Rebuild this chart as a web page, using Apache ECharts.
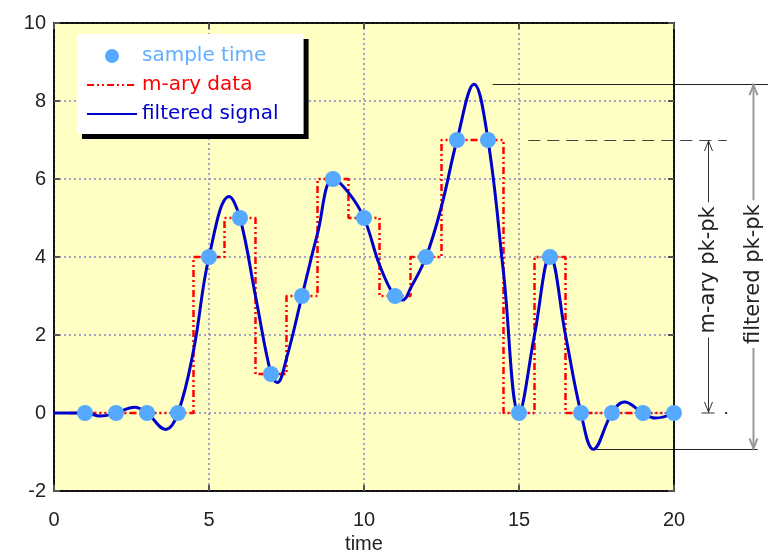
<!DOCTYPE html>
<html>
<head>
<meta charset="utf-8">
<script src="https://cdn.jsdelivr.net/npm/echarts@6/dist/echarts.min.js"></script>
<style>
    html, body { margin: 0; padding: 0; background: #fff; }
    #chart { width: 768px; height: 554px; }
</style>
</head>
<body>
<div id="chart"></div>
<script type="text/javascript">
    // sample instants and the m-ary symbol values
    const sampleT = [1, 2, 3, 4, 5, 6, 7, 8, 9, 10, 11, 12, 13, 14, 15, 16, 17, 18, 19, 20];
    const maryV = [0, 0, 0, 0, 4, 5, 1, 3, 6, 5, 3, 4, 7, 7, 0, 4, 0, 0, 0, 0];

    // filtered signal
    const filtT = [0, 0.5, 1, 1.5, 2, 2.6, 3, 3.6, 4, 4.5, 5, 5.65, 6, 6.5, 7, 7.2, 7.5, 8, 8.5, 9, 9.5, 10,
        10.5, 11, 11.25, 11.5, 12, 12.5, 13, 13.55, 14, 14.5, 15, 15.5, 16, 16.5, 17, 17.4, 18, 18.4, 19, 19.4, 20];
    const filtV = [0, 0, 0, -0.08, 0, 0.15, 0, -0.42, 0, 1.6, 4, 5.55, 5, 3, 1, 0.78, 1.4, 3, 4.6, 6, 5.65, 5,
        3.8, 2.97, 2.9, 3.2, 4, 5.3, 7, 8.43, 7, 3.6, 0, 2, 4.02, 2, 0, -0.93, 0, 0.28, 0, -0.13, 0];

    const xTicks = [0, 5, 10, 15, 20];
    const yTicks = [-2, 0, 2, 4, 6, 8, 10];

    // step data for the m-ary trace, each symbol held for one period around its sample
    let stepData = [];
    sampleT.forEach(function (t, i) {
        stepData.push([t - 0.5, maryV[i]]);
        stepData.push([t + 0.5, maryV[i]]);
    });
    let filtData = filtT.map(function (t, i) { return [t, filtV[i]]; });
    let sampleData = sampleT.map(function (t, i) { return [t, maryV[i]]; });

    let labelFont = 'Liberation Sans, Arial, sans-serif';
    let gridLine = {show: true, lineStyle: {color: '#8585C2', type: [2, 3], width: 1.5}};
    let tick = {show: true, inside: true, length: 6, lineStyle: {color: '#555', width: 2}};
    let frame = {show: true, onZero: false, lineStyle: {color: '#000', width: 1.5}};

    let myChart = echarts.init(document.getElementById('chart'));
    let option = {
        animation: false,
        grid: {
            left: 54, right: 94, top: 23, bottom: 63, outerBoundsMode: 'none',
            show: true, backgroundColor: '#FFFFC4', borderColor: '#000', borderWidth: 1.5
        },
        legend: {
            left: 77, top: 34, orient: 'vertical',
            backgroundColor: '#fff', borderWidth: 0,
            shadowColor: '#000', shadowBlur: 0, shadowOffsetX: 5, shadowOffsetY: 5,
            padding: [12, 25, 10, 9],
            itemWidth: 50, itemHeight: 14, itemGap: 9,
            textStyle: {fontSize: 20, fontFamily: 'DejaVu Sans, sans-serif'},
            data: [
                {name: 'sample time', icon: 'circle', textStyle: {color: '#62AEFF'}},
                {name: 'm-ary data', itemStyle: {opacity: 0}, textStyle: {color: '#FF0000'}},
                {name: 'filtered signal', itemStyle: {opacity: 0}, textStyle: {color: '#0000CC'}}
            ]
        },
        xAxis: [
            {
                type: 'value', min: xTicks[0], max: xTicks[xTicks.length - 1], interval: 5,
                name: 'time', nameLocation: 'middle', nameGap: 42,
                nameTextStyle: {fontSize: 20, color: '#222', fontFamily: labelFont},
                axisLine: frame, axisTick: tick, splitLine: gridLine,
                axisLabel: {fontSize: 20, color: '#222', fontFamily: labelFont, margin: 19}
            },
            {
                type: 'value', position: 'top', min: xTicks[0], max: xTicks[xTicks.length - 1], interval: 5,
                axisLine: frame, axisTick: tick, splitLine: {show: false}, axisLabel: {show: false}
            }
        ],
        yAxis: [
            {
                type: 'value', min: yTicks[0], max: yTicks[yTicks.length - 1], interval: 2,
                axisLine: frame, axisTick: tick, splitLine: gridLine,
                axisLabel: {fontSize: 20, color: '#222', fontFamily: labelFont, margin: 8}
            },
            {
                type: 'value', position: 'right', min: yTicks[0], max: yTicks[yTicks.length - 1], interval: 2,
                axisLine: frame, axisTick: tick, splitLine: {show: false}, axisLabel: {show: false}
            }
        ],
        series: [
            {
                name: 'm-ary data', type: 'line', data: stepData, symbol: 'none', z: 2,
                lineStyle: {color: '#FF0000', width: 2.5, type: [7, 3, 2, 3, 2, 3]},
                itemStyle: {color: '#FF0000'}
            },
            {
                name: 'filtered signal', type: 'line', data: filtData, symbol: 'none', smooth: 0.4, z: 3,
                lineStyle: {color: '#0000CC', width: 3},
                itemStyle: {color: '#0000CC'}
            },
            {
                name: 'sample time', type: 'scatter', data: sampleData, symbolSize: 16, z: 4,
                itemStyle: {color: '#55AAFF', opacity: 1}
            }
        ]
    };
    myChart.setOption(option);

    // peak-to-peak annotations on the right, placed through the axes
    let fMax = Math.max.apply(null, filtV);
    let fMin = Math.min.apply(null, filtV);
    let mMax = Math.max.apply(null, maryV);
    let mMin = Math.min.apply(null, maryV);

    function px(x, y) {
        return myChart.convertToPixel({xAxisIndex: 0, yAxisIndex: 0}, [x, y]);
    }

    function textLen(str, font) {
        let ctx = document.createElement('canvas').getContext('2d');
        ctx.font = font;
        return ctx.measureText(str).width;
    }

    function hline(x1, x2, y, color, dash) {
        let a = px(x1, y), b = px(x2, y);
        return {
            type: 'line', silent: true,
            shape: {x1: a[0], y1: Math.round(a[1]) + 0.5, x2: b[0], y2: Math.round(a[1]) + 0.5},
            style: {stroke: color, lineWidth: 1.2, lineDash: dash || null}
        };
    }

    function vArrow(x, yTop, yBot, yText, label, color, lw, font, bar) {
        let top = px(x, yTop), bot = px(x, yBot), mid = px(x, yText);
        let cx = Math.round(top[0]) + 0.5;
        let half = textLen(label, font) / 2 + 4;
        let els = [
            {type: 'line', shape: {x1: cx, y1: top[1], x2: cx, y2: mid[1] - half}, style: {stroke: color, lineWidth: lw}},
            {type: 'line', shape: {x1: cx, y1: mid[1] + half, x2: cx, y2: bot[1]}, style: {stroke: color, lineWidth: lw}},
            {type: 'polyline', shape: {points: [[cx - 4, top[1] + 11], [cx, top[1] + 1], [cx + 4, top[1] + 11]]}, style: {stroke: color, lineWidth: lw, fill: null}},
            {type: 'polyline', shape: {points: [[cx - 4, bot[1] - 11], [cx, bot[1] - 1], [cx + 4, bot[1] - 11]]}, style: {stroke: color, lineWidth: lw, fill: null}},
            {
                type: 'text', x: cx, y: mid[1], rotation: Math.PI / 2,
                style: {text: label, font: font, fill: '#222', align: 'center', verticalAlign: 'middle'}
            }
        ];
        if (bar) {
            els.push({type: 'line', shape: {x1: cx - 7, y1: bot[1], x2: cx + 6, y2: bot[1]}, style: {stroke: color, lineWidth: lw}});
        }
        return els;
    }

    let annoFont = '21px "DejaVu Sans", sans-serif';
    let graphics = [
        hline(14.15, 23.1, fMax, '#222'),
        hline(15.3, 21.7, mMax, '#444', [12, 7]),
        hline(17.4, 22.7, fMin, '#222')
    ];
    graphics = graphics.concat(vArrow(21.1, mMax, mMin, 3.67, 'm-ary pk-pk', '#333', 1, annoFont, true));
    graphics = graphics.concat(vArrow(22.55, fMax, fMin, 3.56, 'filtered pk-pk', '#999', 2, annoFont, false));
    let dot = px(21.65, mMin);
    graphics.push({type: 'rect', shape: {x: dot[0], y: dot[1] - 1, width: 2, height: 2}, style: {fill: '#333'}});

    myChart.setOption({graphic: graphics});
</script>
</body>
</html>
